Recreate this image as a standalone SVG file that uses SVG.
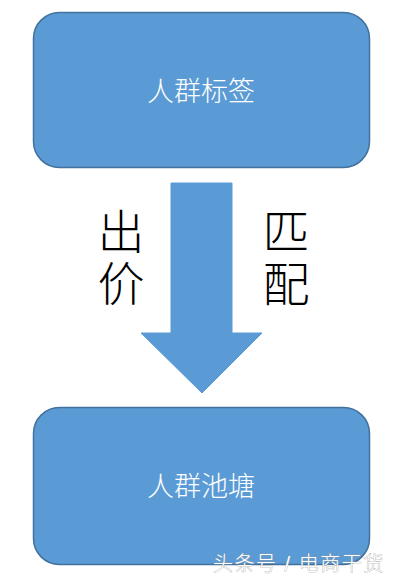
<svg xmlns="http://www.w3.org/2000/svg" width="402" height="584" viewBox="0 0 402 584">
<style>
.box{fill:#5B9BD5;stroke:#41719C;stroke-width:1.5}
.lbl{font-family:"Liberation Sans","Noto Sans CJK SC",sans-serif;font-size:27px;font-weight:300;fill:#ffffff;text-anchor:middle}
.side{font-family:"Liberation Sans","Noto Sans CJK SC",sans-serif;font-size:47px;font-weight:300;fill:#000000;text-anchor:middle}
.wm{font-family:"Liberation Sans","Noto Sans CJK SC",sans-serif;font-size:20px;font-weight:300;letter-spacing:1.5px;fill:#ffffff;stroke:#9a9a9a;stroke-width:0.6;paint-order:stroke}
</style>
<rect width="402" height="584" fill="#ffffff"/>
<g id="node-top">
<rect class="box" x="33.5" y="12.5" width="336" height="155" rx="26"/>
<text class="lbl" x="201" y="101">人群标签</text>
</g>
<g id="connectors">
<polygon points="171,183 232,183 232,333 262,333 202,393 141,333 171,333" fill="#5B9BD5" stroke="#5B9BD5" stroke-width="1"/>
<text class="side" x="121" y="249">出</text>
<text class="side" x="121" y="301">价</text>
<text class="side" x="286" y="249">匹</text>
<text class="side" x="286" y="301">配</text>
</g>
<g id="node-bottom">
<rect class="box" x="33.5" y="407.5" width="336" height="157" rx="26"/>
<text class="lbl" x="201" y="496">人群池塘</text>
</g>
<text class="wm" x="213" y="571">头条号 / 电商干货</text>
</svg>
